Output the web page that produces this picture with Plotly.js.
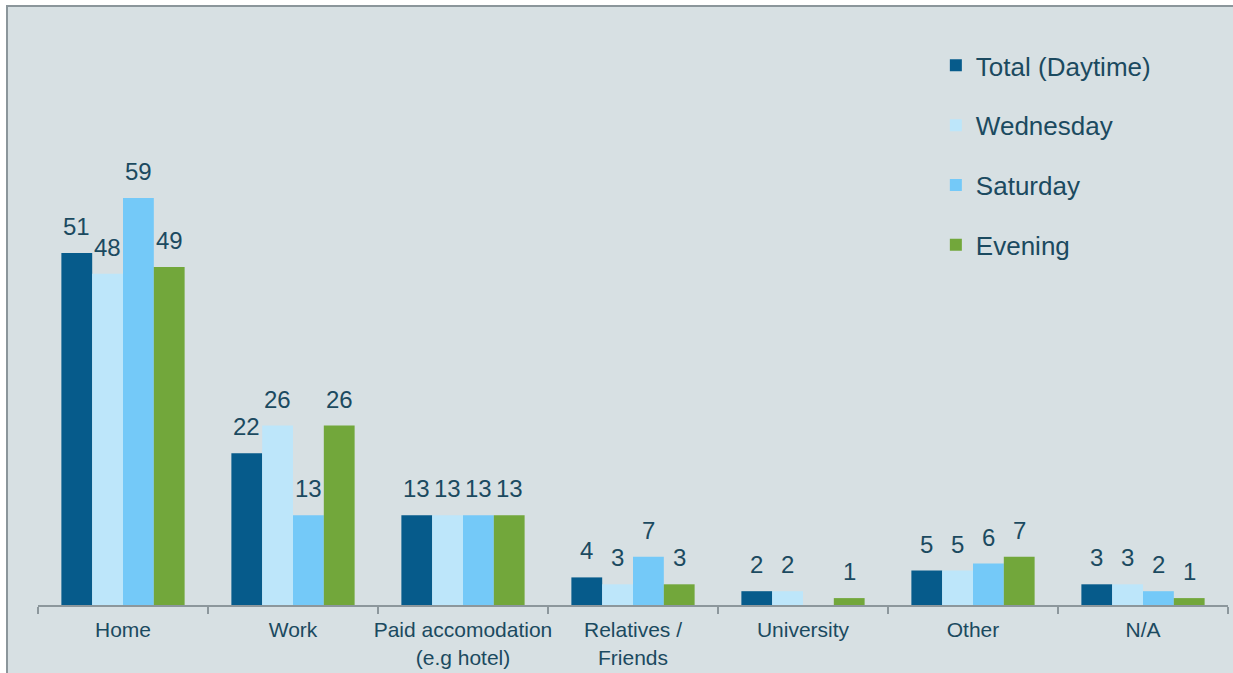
<!DOCTYPE html>
<html>
<head>
<meta charset="utf-8">
<script src="https://cdn.plot.ly/plotly-3.0.1.min.js"></script>
<style>
  html, body { margin: 0; padding: 0; background: #ffffff; }
  #frame {
    position: absolute; left: 6px; top: 5px; width: 1227px; height: 668px;
    box-sizing: border-box; border-left: 2px solid #8b969b; border-top: 2px solid #8b969b;
    background: #d7e0e3;
  }
  #chart { width: 1225px; height: 666px; }
</style>
</head>
<body>
<div id="frame"><div id="chart"></div></div>
<script>
const categories = ["Home", "Work", "Paid accomodation<br>(e.g hotel)", "Relatives /<br>Friends", "University", "Other", "N/A"];
const seriesNames = ["Total (Daytime)", "Wednesday", "Saturday", "Evening"];
const totalDaytime = [51, 22, 13, 4, 2, 5, 3];
const wednesday    = [48, 26, 13, 3, 2, 5, 3];
const saturday     = [59, 13, 13, 7, null, 6, 2];
const evening      = [49, 26, 13, 3, 1, 7, 1];
const seriesValues = [totalDaytime, wednesday, saturday, evening];
const seriesColors = ["#065b8b", "#bde6fa", "#74c9f8", "#72a73b"];

const textColor = "#1b4a60";
const fontFam = "Liberation Sans, Arial, sans-serif";

const W = 1225, H = 666;
const margin = { l: 30, r: 5, t: 46, b: 68, pad: 0 };
const bargap = 0.275;
const nSeries = seriesValues.length;
// pixel width of one bar, derived from the layout settings
const barPx = (W - margin.l - margin.r) / categories.length * (1 - bargap) / nSeries;

const traces = seriesValues.map((vals, i) => ({
  type: "bar",
  name: seriesNames[i],
  x: categories,
  y: vals,
  marker: { color: seriesColors[i], line: { width: 0 } },
  legendgroup: "g" + i,
  hoverinfo: "x+y+name"
}));

const annotations = [];
seriesValues.forEach((vals, i) => {
  vals.forEach((v, j) => {
    if (v == null) return;
    annotations.push({
      xref: "x", yref: "y", x: categories[j], y: v,
      text: String(v), showarrow: false,
      xanchor: "center", yanchor: "bottom",
      xshift: (i - (nSeries - 1) / 2) * barPx,
      yshift: 11,
      font: { family: fontFam, size: 24, color: textColor }
    });
  });
});

const layout = {
  width: W, height: H,
  paper_bgcolor: "#d7e0e3",
  plot_bgcolor: "#d7e0e3",
  margin: margin,
  barmode: "group",
  bargap: bargap,
  bargroupgap: 0,
  font: { family: fontFam, color: textColor },
  showlegend: true,
  legend: {
    x: 0.7545, xanchor: "left", y: 1.02, yanchor: "top",
    bgcolor: "rgba(0,0,0,0)",
    font: { family: fontFam, size: 26, color: textColor },
    traceorder: "grouped",
    tracegroupgap: 23,
    itemwidth: 30
  },
  annotations: annotations,
  xaxis: {
    type: "category",
    showline: true, linecolor: "#8c979c", linewidth: 2,
    ticks: "outside", tickson: "boundaries", ticklen: 7, tickcolor: "#8c979c", tickwidth: 2,
    tickangle: 0,
    ticklabelstandoff: 5,
    tickfont: { family: fontFam, size: 21, color: textColor },
    showgrid: false, zeroline: false, fixedrange: true
  },
  yaxis: {
    range: [0, 80],
    visible: false, showgrid: false, zeroline: false, fixedrange: true
  }
};

Plotly.newPlot("chart", traces, layout, { displayModeBar: false, staticPlot: true });
</script>
</body>
</html>
